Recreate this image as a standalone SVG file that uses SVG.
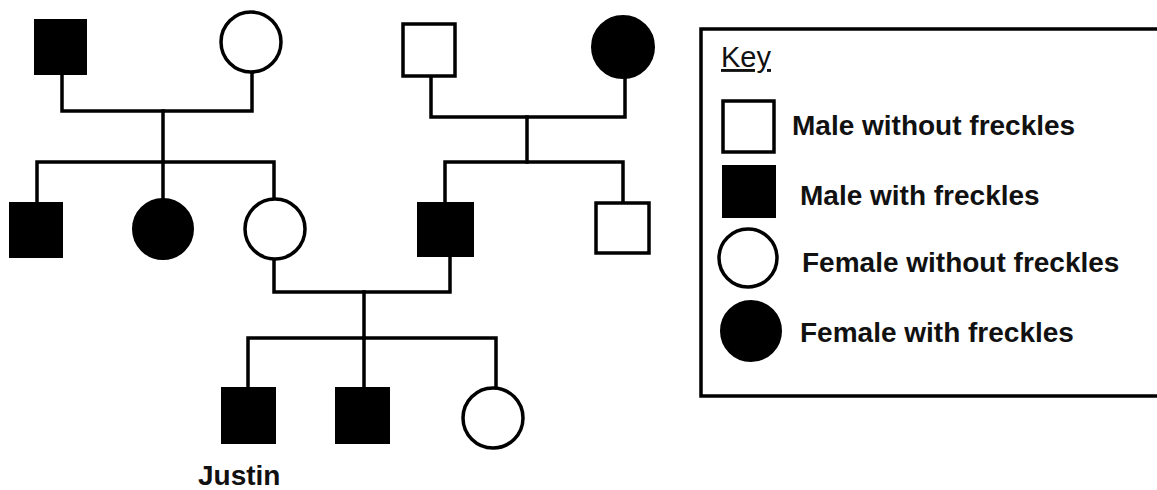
<svg xmlns="http://www.w3.org/2000/svg" width="1157" height="490" viewBox="0 0 1157 490">
<style>
.l{stroke:#000;stroke-width:3.5;fill:none;stroke-linecap:square}
.o{fill:#fff;stroke:#000;stroke-width:3.5}
.f{fill:#000;stroke:#000;stroke-width:2}
.t{font-family:"Liberation Sans",Arial,sans-serif;font-weight:bold;font-size:28px;fill:#111}
.k{font-family:"Liberation Sans",Arial,sans-serif;font-size:29px;fill:#111;text-decoration:underline}
</style>
<rect width="1157" height="490" fill="#fff"/>
<g id="connectors">
<polyline class="l" points="62,74 62,111 252,111 252,72"/>
<line class="l" x1="163" y1="111" x2="163" y2="162"/>
<polyline class="l" points="37,203 37,162 274,162 274,199"/>
<line class="l" x1="163" y1="162" x2="163" y2="199"/>
<polyline class="l" points="431,76 431,117 625,117 625,78"/>
<line class="l" x1="527" y1="117" x2="527" y2="162"/>
<polyline class="l" points="445,203 445,162 623,162 623,202"/>
<polyline class="l" points="274,260 274,292 450,292 450,256"/>
<line class="l" x1="364" y1="292" x2="364" y2="338"/>
<polyline class="l" points="248,388 248,338 496,338 496,387"/>
<line class="l" x1="364" y1="338" x2="364" y2="387"/>
</g>
<g id="gp1"><rect class="f" x="35" y="20" width="51" height="54"/></g>
<g id="gp2"><circle class="o" cx="251" cy="42" r="30"/></g>
<g id="gp3"><rect class="o" x="403" y="24" width="52" height="52"/></g>
<g id="gp4"><circle class="f" cx="623" cy="47" r="31"/></g>
<g id="uncle1"><rect class="f" x="10" y="203" width="52" height="54"/></g>
<g id="aunt1"><circle class="f" cx="163" cy="229" r="30"/></g>
<g id="mother"><circle class="o" cx="275" cy="229" r="30"/></g>
<g id="father"><rect class="f" x="418" y="203" width="55" height="53"/></g>
<g id="uncle2"><rect class="o" x="596" y="203" width="53" height="50"/></g>
<g id="justin"><rect class="f" x="222" y="388" width="53" height="55"/><text class="t" x="198" y="485">Justin</text></g>
<g id="brother"><rect class="f" x="336" y="388" width="53" height="55"/></g>
<g id="sister"><circle class="o" cx="493" cy="418" r="30"/></g>
<g id="key">
<polyline class="l" points="1157,29 701,29 701,396 1157,396"/>
<text class="k" x="721" y="67">Key</text>
<rect class="o" x="723" y="101" width="51" height="51"/>
<text class="t" x="792" y="135">Male without freckles</text>
<rect class="f" x="723" y="166" width="52" height="51"/>
<text class="t" x="800" y="205">Male with freckles</text>
<circle class="o" cx="748" cy="258" r="29"/>
<text class="t" x="802" y="272">Female without freckles</text>
<circle class="f" cx="751" cy="331" r="30"/>
<text class="t" x="800" y="342">Female with freckles</text>
</g>
</svg>
